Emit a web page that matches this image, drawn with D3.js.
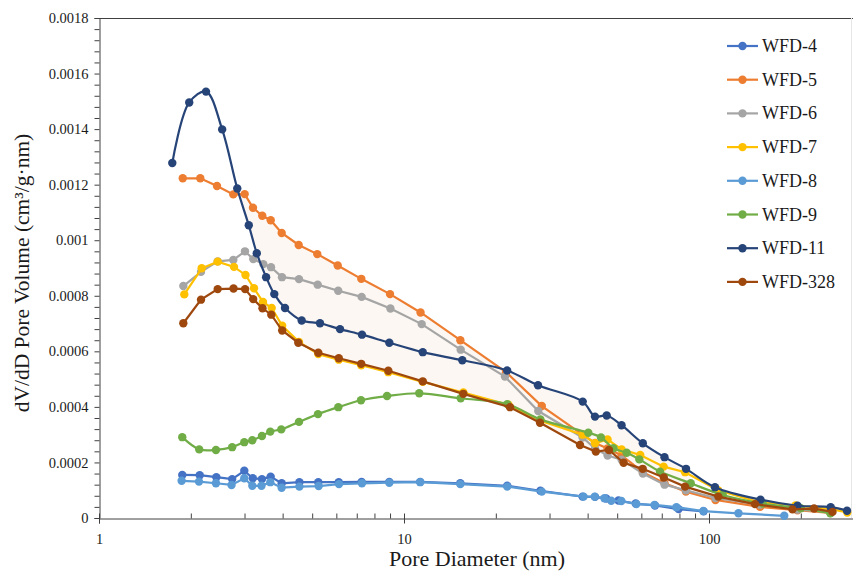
<!DOCTYPE html>
<html>
<head>
<meta charset="utf-8">
<script src="https://cdn.jsdelivr.net/npm/d3@7"></script>
<style>
body { margin: 0; background: #fff; }
text { font-family: "Liberation Serif", "Times New Roman", serif; fill: #1a1a1a; }
</style>
</head>
<body>
<svg id="chart" width="853" height="572"></svg>
<script>
// series names + colours (legend order)
var names = ["WFD-4", "WFD-5", "WFD-6", "WFD-7", "WFD-8", "WFD-9", "WFD-11", "WFD-328"];
var colors = ["#4472C4", "#ED7D31", "#A5A5A5", "#FFC000", "#5B9BD5", "#70AD47", "#264478", "#9E480E"];

var yTicks = [0, 0.0002, 0.0004, 0.0006, 0.0008, 0.001, 0.0012, 0.0014, 0.0016, 0.0018];
var yTickLabels = ["0", "0.0002", "0.0004", "0.0006", "0.0008", "0.001", "0.0012", "0.0014", "0.0016", "0.0018"];
var xTicks = [1, 10, 100];
var xTickLabels = ["1", "10", "100"];

// pore diameter (nm) / dV/dD
var wfd4X = [1.875, 2.139, 2.425, 2.733, 2.995, 3.193, 3.422, 3.654, 3.972, 4.54, 5.236, 6.11, 7.26, 8.95, 11.3, 15.3, 21.8, 28.0, 38.5, 42.3, 46.0, 50.5, 57.5, 66.5, 79.5, 96];
var wfd4Y = [0.000155, 0.000154, 0.000147, 0.000140, 0.000170, 0.000143, 0.000140, 0.000149, 0.000125, 0.000129, 0.000129, 0.000129, 0.000130, 0.000130, 0.000130, 0.000125, 0.000116, 0.000098, 0.000077, 0.000076, 0.000070, 0.000063, 0.000052, 0.000045, 0.000032, 0.000024];

var wfd5X = [1.882, 2.148, 2.437, 2.756, 3.004, 3.198, 3.430, 3.656, 3.972, 4.516, 5.196, 6.062, 7.244, 8.998, 11.33, 15.30, 21.6, 28.3, 38.5, 42.3, 46.5, 51.7, 60.7, 71.5, 84, 105, 147, 195, 250];
var wfd5Y = [0.001223, 0.001223, 0.001195, 0.001165, 0.001166, 0.001117, 0.001088, 0.001072, 0.001026, 0.000983, 0.000950, 0.000909, 0.000861, 0.000806, 0.000740, 0.000640, 0.000525, 0.000403, 0.000300, 0.000270, 0.000250, 0.000225, 0.000165, 0.000125, 0.000095, 0.000065, 0.000040, 0.000028, 0.000018];

var wfd6X = [1.890, 2.160, 2.450, 2.756, 3.010, 3.205, 3.457, 3.664, 3.981, 4.526, 5.212, 6.085, 7.264, 9.025, 11.43, 15.34, 21.43, 27.56, 38.5, 42.3, 46.5, 51.7, 60.7, 71.5, 84, 105, 147, 195, 250];
var wfd6Y = [0.000835, 0.000886, 0.000924, 0.000929, 0.000960, 0.000932, 0.000914, 0.000903, 0.000867, 0.000860, 0.000840, 0.000818, 0.000796, 0.000754, 0.000698, 0.000606, 0.000509, 0.000385, 0.000290, 0.000250, 0.000225, 0.000210, 0.000160, 0.000120, 0.000100, 0.000072, 0.000048, 0.000030, 0.000022];

var wfd7X = [1.904, 2.171, 2.450, 2.771, 3.022, 3.222, 3.449, 3.683, 3.987, 4.526, 5.236, 6.112, 7.239, 8.883, 11.52, 15.65, 22.0, 28.0, 38.5, 42.3, 46.5, 51.7, 59.5, 71.0, 83.5, 107, 145, 192, 252, 284];
var wfd7Y = [0.000805, 0.000899, 0.000923, 0.000904, 0.000875, 0.000827, 0.000778, 0.000756, 0.000692, 0.000634, 0.000590, 0.000570, 0.000550, 0.000525, 0.000490, 0.000452, 0.000408, 0.000350, 0.000300, 0.000269, 0.000283, 0.000247, 0.000227, 0.000185, 0.000165, 0.000100, 0.000058, 0.000045, 0.000032, 0.000020];

var wfd8X = [1.866, 2.127, 2.418, 2.72, 2.995, 3.182, 3.41, 3.644, 3.97, 4.54, 5.25, 6.12, 7.28, 8.95, 11.3, 15.3, 21.8, 28.3, 38.8, 42.2, 45.4, 47.8, 51.6, 57.8, 66.3, 78.2, 95.8, 124.9, 176.5];
var wfd8Y = [0.000134, 0.000131, 0.000125, 0.000119, 0.000143, 0.000116, 0.000116, 0.000129, 0.000109, 0.000113, 0.000115, 0.000122, 0.000125, 0.000127, 0.000129, 0.000122, 0.000113, 0.000095, 0.000077, 0.000077, 0.000071, 0.000062, 0.000061, 0.000050, 0.000047, 0.000039, 0.000025, 0.000017, 0.000008];

var wfd9X = [1.875, 2.131, 2.418, 2.733, 2.995, 3.182, 3.422, 3.644, 3.960, 4.526, 5.224, 6.090, 7.228, 8.797, 11.22, 15.34, 21.8, 28.0, 40.2, 44.25, 48.6, 53.7, 59.1, 69.1, 87.1, 110.9, 150, 200, 250];
var wfd9Y = [0.000291, 0.000247, 0.000245, 0.000255, 0.000273, 0.000280, 0.000295, 0.000311, 0.000319, 0.000346, 0.000374, 0.000399, 0.000424, 0.000439, 0.000449, 0.000431, 0.000410, 0.000355, 0.000307, 0.000290, 0.000251, 0.000235, 0.000211, 0.000167, 0.000125, 0.000083, 0.000052, 0.000035, 0.000017];

var wfd11X = [1.739, 1.976, 2.243, 2.534, 2.840, 3.098, 3.291, 3.531, 3.756, 4.072, 4.618, 5.304, 6.169, 7.282, 8.950, 11.52, 15.53, 21.79, 27.50, 38.54, 42.29, 46.19, 51.67, 60.67, 71.46, 84.08, 104.6, 147.5, 195.1, 250.6, 283.5];
var wfd11Y = [0.001278, 0.001496, 0.001535, 0.001399, 0.001186, 0.001054, 0.000953, 0.000867, 0.000806, 0.000756, 0.000711, 0.000701, 0.000680, 0.000660, 0.000631, 0.000597, 0.000568, 0.000531, 0.000478, 0.000419, 0.000365, 0.000369, 0.000334, 0.000269, 0.000219, 0.000177, 0.000111, 0.000066, 0.000044, 0.000039, 0.000026];

var wfd328X = [1.890, 2.160, 2.450, 2.761, 3.013, 3.203, 3.436, 3.672, 3.987, 4.502, 5.236, 6.112, 7.239, 8.883, 11.52, 15.65, 22.26, 27.92, 37.76, 42.56, 47.00, 52.48, 60.61, 71.09, 83.44, 107.3, 141.5, 187.8, 221, 254];
var wfd328Y = [0.000701, 0.000786, 0.000824, 0.000826, 0.000824, 0.000788, 0.000755, 0.000732, 0.000675, 0.000631, 0.000595, 0.000575, 0.000555, 0.000530, 0.000492, 0.000447, 0.000399, 0.000343, 0.000263, 0.000239, 0.000245, 0.000199, 0.000177, 0.000146, 0.000113, 0.000077, 0.000050, 0.000031, 0.000034, 0.000022];

var seriesX = [wfd4X, wfd5X, wfd6X, wfd7X, wfd8X, wfd9X, wfd11X, wfd328X];
var seriesY = [wfd4Y, wfd5Y, wfd6Y, wfd7Y, wfd8Y, wfd9Y, wfd11Y, wfd328Y];
var smooth = [false, false, false, false, false, true, true, false];

var svg = d3.select("#chart");
var plotLeft = 99, plotRight = 1014, plotTop = 18, plotBottom = 518;

var x = d3.scaleLog().domain([1, 1000]).range([plotLeft, plotRight]);
var y = d3.scaleLinear().domain([0, 0.0018]).range([plotBottom, plotTop]);

// log-x linear interpolation, only used for the shaded band
function interp(xs, ys, v) {
  if (v <= xs[0]) return ys[0];
  for (var i = 1; i < xs.length; i++) {
    if (v <= xs[i]) {
      var t = (Math.log(v) - Math.log(xs[i-1])) / (Math.log(xs[i]) - Math.log(xs[i-1]));
      return ys[i-1] + t * (ys[i] - ys[i-1]);
    }
  }
  return ys[ys.length - 1];
}

// shaded band: above WFD-7/WFD-328, below WFD-5 / WFD-11, right of WFD-11
var xs = 2.8;
while (interp(wfd11X, wfd11Y, xs) > interp(wfd5X, wfd5Y, xs)) xs += 0.005;
var xe = 87, xk = 4.6, n = 160;
var band = [];
var i, t;
for (i = 0; i <= n; i++) {
  t = Math.exp(Math.log(xs) + (Math.log(xe) - Math.log(xs)) * i / n);
  band.push([t, Math.max(interp(wfd5X, wfd5Y, t), interp(wfd11X, wfd11Y, t))]);
}
for (i = n; i >= 0; i--) {
  t = Math.exp(Math.log(xk) + (Math.log(xe) - Math.log(xk)) * i / n);
  band.push([t, Math.min(interp(wfd328X, wfd328Y, t), interp(wfd7X, wfd7Y, t))]);
}
for (i = 40; i >= 0; i--) {
  t = Math.exp(Math.log(xs) + (Math.log(xk) - Math.log(xs)) * i / 40);
  band.push([t, interp(wfd11X, wfd11Y, t)]);
}
svg.append("path")
  .attr("d", d3.line().x(function(d) { return x(d[0]); }).y(function(d) { return y(d[1]); })(band) + "Z")
  .attr("fill", "#fcf7f2")
  .attr("stroke", "none");

// frame
svg.append("line").attr("x1", plotLeft).attr("x2", 853).attr("y1", plotTop + 0.5).attr("y2", plotTop + 0.5)
  .attr("stroke", "#404040").attr("stroke-width", 1);
svg.append("line").attr("x1", 851.5).attr("x2", 851.5).attr("y1", plotTop).attr("y2", plotBottom)
  .attr("stroke", "#e6e6e6").attr("stroke-width", 1);

// y axis
var minorY = d3.range(0, 0.00181, 0.00004).filter(function(v) { return Math.abs(v / 0.0002 - Math.round(v / 0.0002)) > 1e-6; });
var gy = svg.append("g").attr("transform", "translate(" + (plotLeft + 0.5) + ",0)")
  .call(d3.axisLeft(y).tickValues(yTicks).tickSize(5).tickPadding(6)
    .tickFormat(function(d, i) { return yTickLabels[i]; }));
svg.append("g").attr("transform", "translate(" + (plotLeft + 0.5) + ",0)")
  .call(d3.axisLeft(y).tickValues(minorY).tickSize(5).tickFormat(""))
  .select(".domain").remove();
gy.selectAll("text").style("font-size", "14.5px").style("font-family", "'Liberation Serif', serif");

// x axis
var minorX = [];
[1, 10, 100].forEach(function(dec) { for (var k = 2; k <= 9; k++) minorX.push(dec * k); });
var gx = svg.append("g").attr("transform", "translate(0," + (plotBottom + 0.5) + ")")
  .call(d3.axisBottom(x).tickValues(xTicks).tickSize(5).tickPadding(10)
    .tickFormat(function(d, i) { return xTickLabels[i]; }));
gx.selectAll(".tick line").attr("y1", -5);
gx.selectAll("text").style("font-size", "14.5px").style("font-family", "'Liberation Serif', serif");
svg.append("g").attr("transform", "translate(0," + (plotBottom + 0.5) + ")")
  .call(d3.axisBottom(x).tickValues(minorX).tickSize(-5).tickFormat(""))
  .select(".domain").remove();
svg.selectAll(".domain, .tick line").attr("stroke", "#404040");

// series
seriesX.forEach(function(xsArr, si) {
  var pts = xsArr.map(function(v, j) { return [v, seriesY[si][j]]; });
  var line = d3.line()
    .x(function(d) { return x(d[0]); })
    .y(function(d) { return y(d[1]); })
    .curve(smooth[si] ? d3.curveCatmullRom.alpha(0.5) : d3.curveLinear);
  var g = svg.append("g").attr("class", "series");
  g.append("path").attr("d", line(pts))
    .attr("fill", "none").attr("stroke", colors[si]).attr("stroke-width", 2.2);
  g.selectAll("circle").data(pts).enter().append("circle")
    .attr("cx", function(d) { return x(d[0]); })
    .attr("cy", function(d) { return y(d[1]); })
    .attr("r", 4.2)
    .attr("fill", colors[si]);
});

// legend
var legend = svg.append("g");
names.forEach(function(nm, i) {
  var ly = 46 + i * 33.7;
  legend.append("line").attr("x1", 727).attr("x2", 758).attr("y1", ly).attr("y2", ly)
    .attr("stroke", colors[i]).attr("stroke-width", 2.2);
  legend.append("circle").attr("cx", 742.5).attr("cy", ly).attr("r", 4.2).attr("fill", colors[i]);
  legend.append("text").attr("x", 762).attr("y", ly + 6).style("font-size", "18px").text(nm);
});

// axis titles
svg.append("text").attr("x", 477).attr("y", 566).attr("text-anchor", "middle")
  .style("font-size", "22px").text("Pore Diameter (nm)");
svg.append("text").attr("transform", "translate(29,273) rotate(-90)").attr("text-anchor", "middle")
  .style("font-size", "21.5px").text("dV/dD Pore Volume (cm³/g·nm)");
</script>
</body>
</html>
